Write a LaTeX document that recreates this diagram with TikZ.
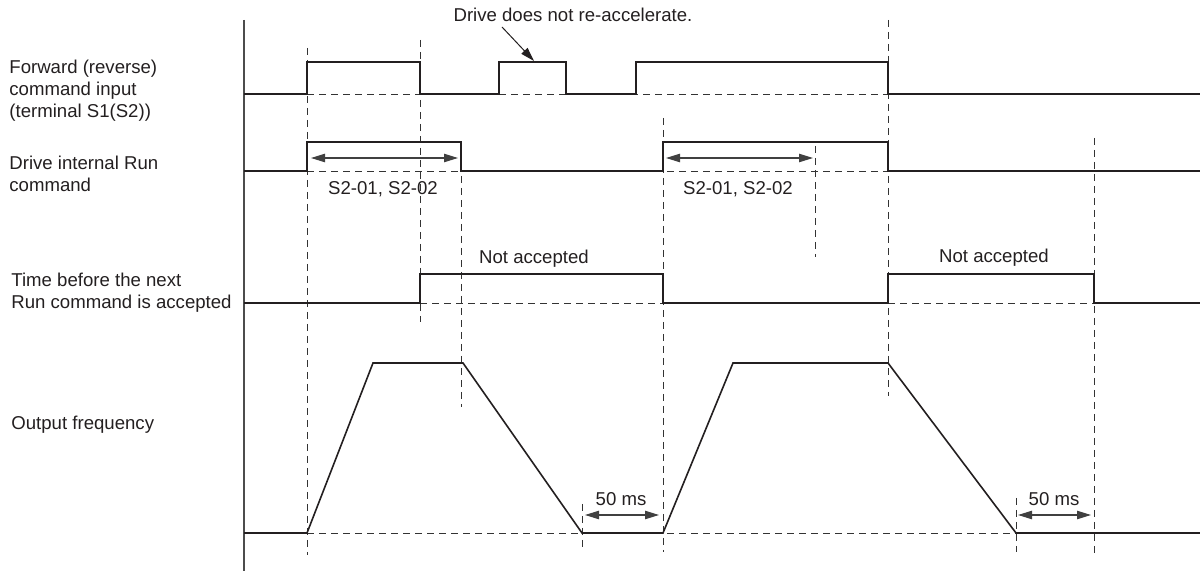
\documentclass[tikz,border=0pt]{standalone}
\usepackage{fontspec}
\setmainfont{Liberation Sans}
\usetikzlibrary{arrows.meta}
\definecolor{ink}{HTML}{231F20}
\begin{document}
\begin{tikzpicture}[x=0.5pt,y=-0.5pt,
  every node/.style={font=\fontsize{9.3}{11}\selectfont,inner sep=0pt,text=ink},
  sig/.style={line width=0.8pt,ink},
  guide/.style={dash pattern=on 3.5pt off 2.5pt,line width=0.45pt,black!80},
  span/.style={{Triangle[length=7pt,width=4.2pt]}-{Triangle[length=7pt,width=4.2pt]},line width=0.6pt,black!75},
  lbl/.style={anchor=west,align=left}]
\useasboundingbox (0,0) rectangle (1200,571);
\draw[line width=0.6pt,black!70] (244,20) -- (244,571);
% signal names
\node[lbl] (fwd) at (9,91) {Forward (reverse)\\command input\\(terminal S1(S2))};
\node[lbl] (run) at (9,174) {Drive internal Run\\command};
\node[lbl] (acc) at (11,293) {Time before the next\\Run command is accepted};
\node[lbl] (freq) at (11,425) {Output frequency};
% guides
\draw[guide] (307,94) -- (888,94) (307,171) -- (888,171) (420,303) -- (1094,303) (307,533) -- (1016,533);
\draw[guide] (307,48) -- (307,555) (420,40) -- (420,322) (461,176) -- (461,407)
  (663,118) -- (663,552) (815,146) -- (815,257) (888,20) -- (888,396)
  (1094,138) -- (1094,555) (582,504) -- (582,552) (1016,498) -- (1016,552);
% waveforms
\draw[sig] (244,94) -| (307,62) -| (420,94) -| (499,62) -| (566,94) -| (636,62) -| (888,94) -- (1200,94);
\draw[sig] (244,171) -| (307,142) -| (461,171) -| (663,142) -| (888,171) -- (1200,171);
\draw[sig] (244,303) -| (420,274) -| (663,303) -| (888,274) -| (1094,303) -- (1200,303);
\draw[sig] (244,533) -- (307,533) -- (373,363) -- (463,363) -- (582,533) -- (663,533)
  -- (733,363) -- (888,363) -- (1016,533) -- (1200,533);
% spans
\coordinate (s1a) at (311,158); \coordinate (s1b) at (458,158);
\coordinate (s2a) at (666,158); \coordinate (s2b) at (813,158);
\coordinate (w1a) at (585,515); \coordinate (w1b) at (659,515);
\coordinate (w2a) at (1018,515); \coordinate (w2b) at (1091,515);
\draw[span] (s1a) -- (s1b);
\draw[span] (s2a) -- (s2b);
\draw[span] (w1a) -- (w1b);
\draw[span] (w2a) -- (w2b);
\node (par1) at (383,189) {S2-01, S2-02};
\node (par2) at (738,189) {S2-01, S2-02};
\node (na1) at (534,259) {Not accepted};
\node (na2) at (994,258) {Not accepted};
\node (ms1) at (621,499) {50 ms};
\node (ms2) at (1054,499) {50 ms};
% note
\node (note) at (573,15) {Drive does not re-accelerate.};
\coordinate (tail) at (502,27);
\coordinate (pulse) at (534,61);
\draw[-{Triangle[length=7pt,width=4.2pt]},line width=0.5pt,ink] (tail) -- (pulse);
\end{tikzpicture}
\end{document}
